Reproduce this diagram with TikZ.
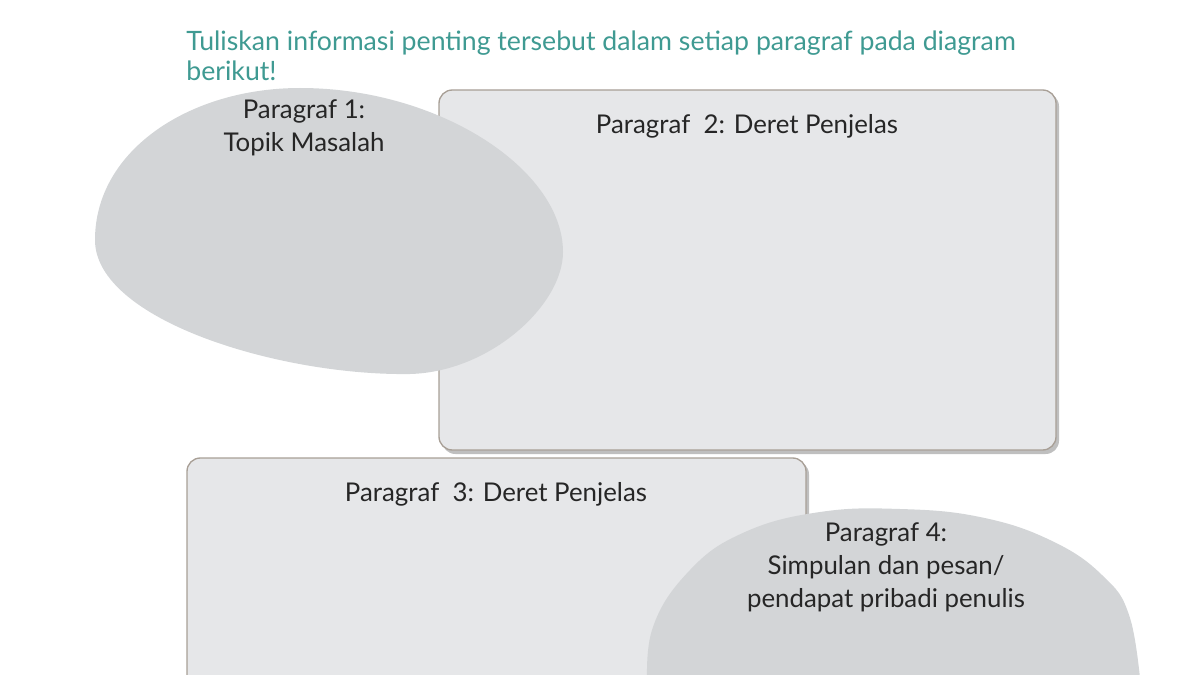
\documentclass[tikz,border=0pt]{standalone}
\usepackage{fontspec}
\setmainfont{Lato}
\definecolor{teks}{HTML}{262626}
\definecolor{hijau}{HTML}{3F9A92}
\definecolor{isi}{HTML}{E6E7E9}
\definecolor{abu}{HTML}{D3D5D7}
\definecolor{garis}{HTML}{A89F96}

\begin{document}
\begin{tikzpicture}[x=0.6pt,y=-0.6pt,
	kotak/.style={draw=garis,fill=isi,line width=0.8pt,rounded corners=8pt},
	bayang/.style={fill=black!25,rounded corners=8pt},
	awan/.style={fill=abu},
	label/.style={font=\fontsize{15.5}{19.8}\selectfont,text=teks,align=center,inner sep=0pt}]
	\useasboundingbox (0,0) rectangle (1200,675);
	\clip (0,0) rectangle (1200,675);
	\fill[bayang] (442,93) rectangle (1059,454);
	\draw[kotak] (439,90) rectangle (1056,450);
	\fill[bayang] (190,461) rectangle (809,720);
	\draw[kotak] (187,458) rectangle (806,720);
	\fill[awan] (300,88) .. controls (440,88) and (563,170) .. (563,252) .. controls (563,305) and (490,372) .. (410,374) .. controls (280,376) and (95,320) .. (95,240) .. controls (95,150) and (190,88) .. (300,88) -- cycle;
	\fill[awan] plot[smooth,tension=0.7] coordinates {(648,700) (652,630) (690,570) (745,532) (820,512) (900,509) (980,517) (1050,540) (1102,575) (1130,618) (1142,700)} -- cycle;
	\node[anchor=north west,font=\fontsize{16}{17.5}\selectfont,text=hijau,align=left,inner sep=0pt] (T)at(186,31) {Tuliskan informasi penting tersebut dalam setiap paragraf pada diagram\\berikut!};
	\node[label] (P1)at(304,128) {Paragraf 1:\\Topik Masalah};
	\node[label] (P2)at(747,126) {Paragraf\ \ 2: Deret Penjelas};
	\node[label] (P3)at(496,494) {Paragraf\ \ 3: Deret Penjelas};
	\node[label] (P4)at(886,567) {Paragraf 4:\\Simpulan dan pesan/\\pendapat pribadi penulis};
\end{tikzpicture}
\end{document}
